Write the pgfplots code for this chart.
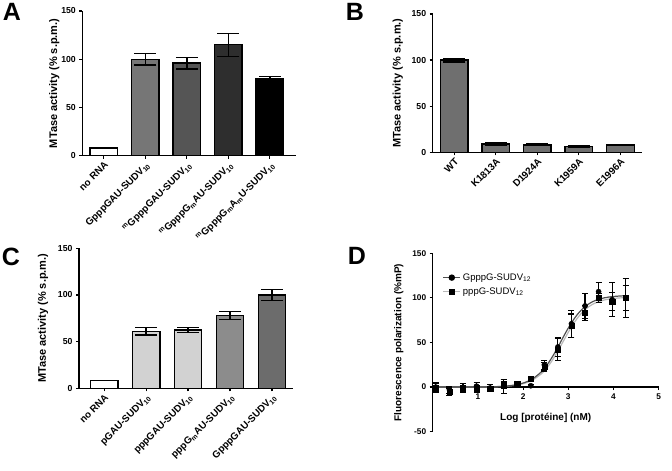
\documentclass[border=0pt]{standalone}
\usepackage{fontspec}
\setmainfont{Liberation Sans}
\usepackage{pgfplots}
\pgfplotsset{compat=1.18}

\definecolor{gA1}{HTML}{767676}
\definecolor{gA2}{HTML}{555555}
\definecolor{gA3}{HTML}{2E2E2E}
\definecolor{gB}{HTML}{6F6F6F}
\definecolor{gC1}{HTML}{D2D2D2}
\definecolor{gC2}{HTML}{8C8C8C}
\definecolor{gC3}{HTML}{6C6C6C}
\definecolor{fitdark}{HTML}{505050}
\definecolor{fitlight}{HTML}{B8B8B8}

\pgfplotsset{
  prism/.style={
    scale only axis, anchor=south west,
    axis x line*=bottom, axis y line*=left,
    axis line style={line width=1.3pt, -},
    every inner x axis line/.append style={-},
    every inner y axis line/.append style={-},
    every outer x axis line/.append style={-},
    every outer y axis line/.append style={-},
    tick style={line width=1.2pt, black},
    tick align=outside, major tick length=3pt,
    tick label style={font=\bfseries\fontsize{8.7}{10}\selectfont},
    label style={font=\bfseries\fontsize{11}{12}\selectfont},
    ymin=0, ymax=150, ytick={0,50,100,150}, yticklabels={0,50,100,150},
    clip=false,
  },
  prismbar/.style={
    prism, ybar, bar width=27.5pt, bar shift=0pt, xtick={0,...,4},
    xticklabel style={rotate=45, anchor=north east, inner sep=1.5pt,
      font=\bfseries\fontsize{9.8}{11}\selectfont},
    ylabel={MTase activity (\% s.p.m.)},
  },
  b/.style={fill=#1, draw=black, line width=1.3pt,
    error bars/.cd, y dir=both, y explicit,
    error bar style={line width=1.3pt, black},
    error mark options={rotate=90, mark size=11pt, line width=1.3pt, black}},
  pts/.style={only marks, mark=#1, mark size=2.6pt, black,
    error bars/.cd, y dir=both, y explicit,
    error bar style={line width=1.1pt, black},
    error mark options={rotate=90, mark size=3pt, line width=1.1pt, black}},
}

\begin{document}
\begin{tikzpicture}
\useasboundingbox (0,0) rectangle (672pt,471pt);

% A
\begin{axis}[prismbar, at={(82.3pt,315.3pt)}, width=213.7pt, height=144.7pt,
  xmin=-0.52, xmax=4.63, ylabel shift=-5pt,
  xticklabels={no RNA, GpppGAU-SUDV\textsubscript{10},
    \textsuperscript{m}GpppGAU-SUDV\textsubscript{10},
    \textsuperscript{m}GpppG\textsubscript{m}AU-SUDV\textsubscript{10},
    \textsuperscript{m}GpppG\textsubscript{m}A\textsubscript{m}U-SUDV\textsubscript{10}}]
\addplot[b=white] coordinates {(0,8) +- (0,0)};
\addplot[b=gA1] coordinates {(1,100) +- (0,6)};
\addplot[b=gA2] coordinates {(2,96) +- (0,6)};
\addplot[b=gA3] coordinates {(3,115) +- (0,12)};
\addplot[b=black] coordinates {(4,80) +- (0,2)};
\end{axis}

% B
\begin{axis}[prismbar, at={(432.7pt,318.7pt)}, width=209.3pt, height=138.3pt,
  xmin=-0.52, xmax=4.52, ylabel shift=2pt,
  xticklabels={WT, K1813A, D1924A, K1959A, E1996A}]
\addplot[b=gB] coordinates {(0,100) +- (0,2)};
\addplot[b=gB] coordinates {(1,9) +- (0,1)};
\addplot[b=gB] coordinates {(2,8) +- (0,1)};
\addplot[b=gB] coordinates {(3,6.5) +- (0,1)};
\addplot[b=gB] coordinates {(4,8) +- (0,0)};
\end{axis}

% C
\begin{axis}[prismbar, at={(79pt,82.7pt)}, width=214pt, height=140pt,
  xmin=-0.6, xmax=4.5, ylabel shift=3pt,
  xticklabels={no RNA, pGAU-SUDV\textsubscript{10}, pppGAU-SUDV\textsubscript{10},
    pppG\textsubscript{m}AU-SUDV\textsubscript{10}, GpppGAU-SUDV\textsubscript{10}}]
\addplot[b=white] coordinates {(0,8) +- (0,0)};
\addplot[b=gC1] coordinates {(1,61) +- (0,4)};
\addplot[b=gC1] coordinates {(2,62.5) +- (0,3)};
\addplot[b=gC2] coordinates {(3,78) +- (0,4.5)};
\addplot[b=gC3] coordinates {(4,100) +- (0,6)};
\end{axis}

% D
\begin{axis}[prism, at={(432.7pt,39.3pt)}, width=226pt, height=178.4pt,
  axis x line*=middle, hide obscured y ticks=false,
  xmin=0, xmax=5, ymin=-50, ymax=150,
  xtick={1,...,5}, xticklabels={1,2,3,4,5},
  ytick={-50,0,50,100,150}, yticklabels={-50,0,50,100,150},
  tick label style={font=\bfseries\fontsize{8.3}{10}\selectfont},
  label style={font=\bfseries\fontsize{10}{12}\selectfont},
  xlabel={Log [protéine] (nM)},
  xlabel style={at={(rel axis cs:0.5,0.077)}, anchor=center},
  ylabel={Fluorescence polarization (\%mP)}, ylabel shift=2pt,
  legend style={at={(rel axis cs:0.03,0.91)}, anchor=north west, draw=none,
    fill=none, font=\fontsize{9.5}{11}\selectfont, row sep=2pt},
  legend cell align=left]
\addlegendimage{fitdark, line width=1.2pt, mark=*, mark size=2.6pt, mark options={black}}
\addlegendentry{GpppG-SUDV\textsubscript{12}}
\addlegendimage{fitlight, line width=1.2pt, mark=square*, mark size=2.6pt, mark options={black}}
\addlegendentry{pppG-SUDV\textsubscript{12}}
\addplot[fitlight, line width=1.2pt, smooth, forget plot] coordinates {
  (0.07,0) (1.0,0.1) (1.5,0.6) (1.8,1.9) (2.0,3.8) (2.2,7.6) (2.4,14.7) (2.5,20)
  (2.6,26.6) (2.7,34.4) (2.8,43.2) (2.9,52.4) (3.0,61.5) (3.1,69.9) (3.2,77.2)
  (3.3,83.3) (3.4,88) (3.5,91.7) (3.6,94.3) (3.8,97.7) (4.0,99.4) (4.27,100.4)};
\addplot[fitdark, line width=1.2pt, smooth, forget plot] coordinates {
  (0.07,0) (1.0,0.1) (1.5,0.7) (1.8,2.2) (2.0,4.5) (2.2,8.9) (2.4,16.9) (2.5,22.9)
  (2.6,30.1) (2.7,38.5) (2.8,47.7) (2.9,57.2) (3.0,66.2) (3.1,74.4) (3.2,81.4)
  (3.3,87) (3.4,91.4) (3.5,94.7) (3.6,97.1) (3.8,100.1) (4.0,101.6) (4.27,102.5)};
\addplot[forget plot, pts=square*] coordinates {
  (0.07,-1) +- (0,5) (0.37,-5) +- (0,4) (0.67,-2) +- (0,4) (0.97,-2) +- (0,4)
  (1.27,-2) +- (0,3) (1.57,4) +- (0,5) (1.87,4) +- (0,2) (2.17,9) +- (0,2)
  (2.47,23) +- (0,5) (2.77,42) +- (0,12) (3.07,69) +- (0,13) (3.37,83) +- (0,8)
  (3.67,100) +- (0,5) (3.97,96) +- (0,10) (4.27,100) +- (0,14)};
\addplot[forget plot, pts=*] coordinates {
  (0.07,0) +- (0,5) (0.37,-3) +- (0,4) (0.67,-1) +- (0,5) (0.97,1) +- (0,4)
  (1.27,-1) +- (0,4) (1.57,1) +- (0,8) (1.87,3) +- (0,3) (2.17,1.5) +- (0,1)
  (2.47,25) +- (0,5) (2.77,45) +- (0,11) (3.07,71) +- (0,15) (3.37,91) +- (0,14)
  (3.67,107) +- (0,10) (3.97,98) +- (0,19) (4.27,100) +- (0,22)};
\end{axis}

\node[font=\bfseries\fontsize{25}{25}\selectfont] at (12pt,459pt) {A};
\node[font=\bfseries\fontsize{25}{25}\selectfont] at (355pt,459pt) {B};
\node[font=\bfseries\fontsize{25}{25}\selectfont] at (11pt,214.5pt) {C};
\node[font=\bfseries\fontsize{25}{25}\selectfont] at (357pt,215.5pt) {D};
\end{tikzpicture}
\end{document}
